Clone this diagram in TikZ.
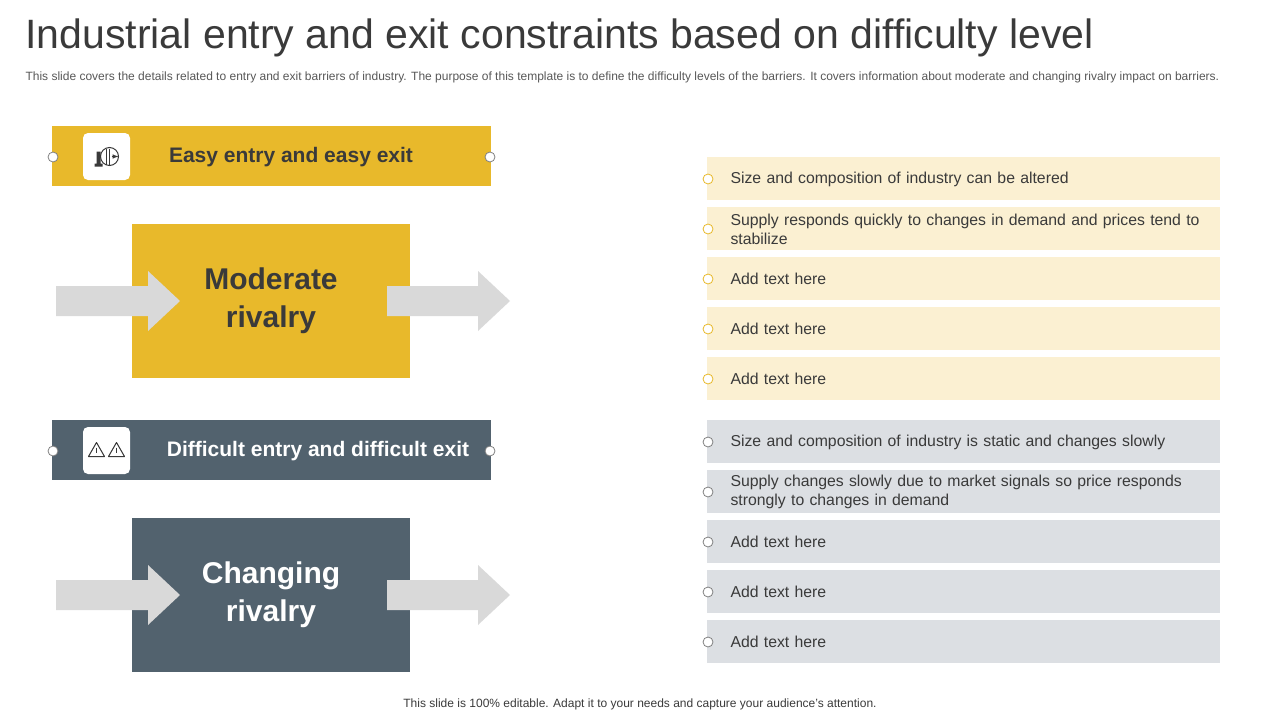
\documentclass[tikz,border=0pt]{standalone}
\usepackage{fontspec}
\setmainfont{Liberation Sans}
\usetikzlibrary{shapes,arrows,positioning,calc}
\definecolor{gold}{HTML}{E8B92B}
\definecolor{slate}{HTML}{52626E}
\definecolor{paleGold}{HTML}{FBF0D2}
\definecolor{paleGrey}{HTML}{DCDFE3}
\definecolor{arrowGrey}{HTML}{D9D9D9}
\definecolor{ink}{HTML}{3A3A3A}
\begin{document}
\begin{tikzpicture}[x=1pt, y=-1pt,
    banner/.style={rectangle, minimum width=439pt, minimum height=60pt, inner sep=0pt},
    bigbox/.style={rectangle, minimum width=278pt, minimum height=154pt, align=center, font=\fontsize{30}{38}\selectfont\bfseries},
    row/.style={rectangle, minimum width=513pt, minimum height=43pt, inner sep=0pt},
    rowtext/.style={anchor=west, text width=475pt, align=left, font=\fontsize{15.8}{19}\selectfont, text=ink},
    dot/.style={circle, fill=white, draw=#1, line width=0.8pt, minimum size=10pt, inner sep=0pt},
    iconbox/.style={rectangle, rounded corners=5pt, fill=white, minimum size=47pt},
    fatarrow/.style={fill=arrowGrey}
]
    \useasboundingbox (0,0) rectangle (1280,720);

    % Titre
    \node[anchor=west, font=\fontsize{41}{46}\selectfont, text=ink] (title) at (22,38) {Industrial entry and exit constraints based on difficulty level};
    \node[anchor=west, font=\fontsize{12}{14}\selectfont, text=ink!85] (sub) at (22,77) {This slide covers the details related to entry and exit barriers of industry. The purpose of this template is to define the difficulty levels of the barriers. It covers information about moderate and changing rivalry impact on barriers.};

    % Bandeaux
    \node[banner, fill=gold] (easy) at (271.5,156) {};
    \node[font=\fontsize{21}{24}\selectfont\bfseries, text=ink] (easyT) at (291,157) {Easy entry and easy exit};
    \node[iconbox] (easyI) at (106.5,156.5) {};
    \draw[ink, line width=1pt] (easyI.center) ++(3,0) circle (9pt);
    \draw[ink, line width=1.2pt] ($(easyI.center)+(0,-8)$) -- ++(0,16) ($(easyI.center)+(3,-8)$) -- ++(0,16);
    \draw[ink, -latex, line width=1pt] ($(easyI.center)+(5,0)$) -- ++(7,0);
    \fill[ink] ($(easyI.center)+(-12,10)$) rectangle ++(8,-3) ($(easyI.center)+(-10,7)$) rectangle ++(4,-12);
    \node[dot=gray] (easyL) at (53,157) {};
    \node[dot=gray] (easyR) at (490,157) {};

    \node[banner, fill=slate] (hard) at (271.5,450) {};
    \node[font=\fontsize{21}{24}\selectfont\bfseries, text=white] (hardT) at (318,451) {Difficult entry and difficult exit};
    \node[iconbox] (hardI) at (106.5,450.5) {};
    \foreach \dx in {-10,10} {
        \draw[ink, line width=1pt, line join=round] ($(hardI.center)+(\dx-8,6)$) -- ++(8,-14) -- ++(8,14) -- cycle;
        \draw[ink, line width=1pt] ($(hardI.center)+(\dx,-3)$) -- ++(0,5);
    }
    \node[dot=gray] (hardL) at (53,451) {};
    \node[dot=gray] (hardR) at (490,451) {};

    % Blocs et fleches
    \node[bigbox, fill=gold, text=ink] (mod) at (271,301) {Moderate\\rivalry};
    \node[bigbox, fill=slate, text=white] (chg) at (271,595) {Changing\\rivalry};
    \foreach \yc/\name in {301/mod, 595/chg} {
        \fill[fatarrow] (56,\yc-15) -- (148,\yc-15) -- (148,\yc-30) -- (180,\yc) -- (148,\yc+30) -- (148,\yc+15) -- (56,\yc+15) -- cycle;
        \fill[fatarrow] (387,\yc-15) -- (478,\yc-15) -- (478,\yc-30) -- (510,\yc) -- (478,\yc+30) -- (478,\yc+15) -- (387,\yc+15) -- cycle;
    }

    % Listes
    \foreach \i/\txt in {0/Size and composition of industry  can be altered,
                         1/Supply responds quickly to changes in demand and prices tend to stabilize,
                         2/Add text here, 3/Add text here, 4/Add text here} {
        \node[row, fill=paleGold] (easy\i) at (963.5,178.5+50*\i) {};
        \node[dot=gold] (easyD\i) at (708,179+50*\i) {};
        \node[rowtext] at (727,179+50*\i) {\txt};
    }
    \foreach \i/\txt in {0/Size and composition of industry  is static and changes slowly,
                         1/Supply changes slowly due to market signals so price responds strongly to changes in demand,
                         2/Add text here, 3/Add text here, 4/Add text here} {
        \node[row, fill=paleGrey] (hard\i) at (963.5,441.5+50*\i) {};
        \node[dot=gray] (hardD\i) at (708,442+50*\i) {};
        \node[rowtext] at (727,442+50*\i) {\txt};
    }

    % Pied de page
    \node[font=\fontsize{12}{14}\selectfont, text=ink] (foot) at (640,704) {This slide is 100\% editable. Adapt it to your needs and capture your audience's attention.};
\end{tikzpicture}
\end{document}
